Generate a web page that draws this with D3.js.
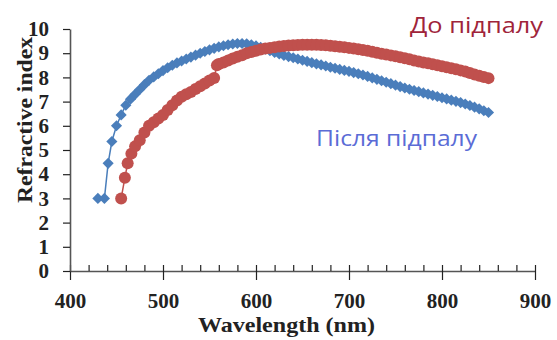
<!DOCTYPE html>
<html>
<head>
<meta charset="utf-8">
<script src="https://cdn.jsdelivr.net/npm/d3@7"></script>
<style>
  body { margin: 0; background: #fff; }
  .axis text { font-family: "Liberation Serif", "Times New Roman", serif; font-weight: bold; font-size: 21px; fill: #222; }
  .axis .domain { stroke: #555; stroke-width: 1.6; }
  .axis line { stroke: #222; stroke-width: 1.2; }
  .axis-title { font-family: "Liberation Serif", "Times New Roman", serif; font-weight: bold; font-size: 22px; fill: #222; }
  .note { font-family: "Open Sans", "Noto Sans", sans-serif; font-size: 22px; }
</style>
</head>
<body>
<div id="chart"></div>
<script>
// Після підпалу (after annealing), blue diamonds
const afterWavelength = [430, 437, 441, 445, 450, 455, 460, 465, 470, 475, 480, 485, 490, 495, 500,
  505, 510, 515, 520, 525, 530, 535, 540, 545, 550, 555, 560, 565, 570, 575, 580, 585, 590, 595, 600,
  605, 610, 615, 620, 625, 630, 635, 640, 645, 650, 655, 660, 665, 670, 675, 680, 685, 690, 695, 700,
  705, 710, 715, 720, 725, 730, 735, 740, 745, 750, 755, 760, 765, 770, 775, 780, 785, 790, 795, 800,
  805, 810, 815, 820, 825, 830, 835, 840, 845, 850];
const afterIndex = [3.0, 3.0, 4.45, 5.35, 6.0, 6.45, 6.85, 7.1, 7.3, 7.5, 7.7, 7.88, 8.02, 8.15, 8.28,
  8.4, 8.5, 8.6, 8.68, 8.76, 8.84, 8.92, 9.0, 9.07, 9.14, 9.2, 9.26, 9.31, 9.35, 9.38, 9.4, 9.4, 9.39, 9.35, 9.3,
  9.24, 9.17, 9.1, 9.03, 8.97, 8.91, 8.86, 8.81, 8.76, 8.71, 8.66, 8.61, 8.56, 8.52, 8.47, 8.42, 8.38, 8.33, 8.29, 8.25,
  8.2, 8.15, 8.1, 8.04, 7.98, 7.92, 7.86, 7.8, 7.74, 7.68, 7.62, 7.56, 7.51, 7.46, 7.41, 7.36, 7.31, 7.26, 7.21, 7.16,
  7.11, 7.06, 7.01, 6.96, 6.9, 6.84, 6.77, 6.7, 6.62, 6.55];

// До підпалу (before annealing), red circles
const beforeWavelength = [455, 459, 462, 466, 470, 475, 480, 485, 490, 495, 500, 505, 510, 515, 520,
  525, 530, 535, 540, 545, 550, 555, 558, 560, 565, 570, 575, 580, 585, 590, 595, 600, 605, 610, 615,
  620, 625, 630, 635, 640, 645, 650, 655, 660, 665, 670, 675, 680, 685, 690, 695, 700, 705, 710, 715,
  720, 725, 730, 735, 740, 745, 750, 755, 760, 765, 770, 775, 780, 785, 790, 795, 800, 805, 810, 815,
  820, 825, 830, 835, 840, 845, 850];
const beforeIndex = [3.0, 3.85, 4.45, 4.85, 5.15, 5.4, 5.72, 6.0, 6.15, 6.3, 6.45, 6.65, 6.85, 7.05, 7.2,
  7.3, 7.4, 7.52, 7.63, 7.75, 7.87, 7.98, 8.5, 8.55, 8.62, 8.7, 8.78, 8.85, 8.92, 9.0, 9.05, 9.1, 9.15, 9.19, 9.22,
  9.25, 9.28, 9.3, 9.32, 9.33, 9.34, 9.35, 9.35, 9.35, 9.35, 9.34, 9.33, 9.31, 9.29, 9.27, 9.25, 9.22, 9.19, 9.16, 9.13,
  9.1, 9.06, 9.02, 8.98, 8.95, 8.91, 8.87, 8.83, 8.79, 8.75, 8.7, 8.66, 8.62, 8.58, 8.54, 8.5, 8.46, 8.42, 8.38, 8.34,
  8.29, 8.24, 8.18, 8.12, 8.07, 8.02, 7.97];

const xTicks = d3.range(400, 901, 20);
const yTicks = d3.range(0, 11, 1);

class IndexChart {
  constructor(_config) {
    this.config = {
      parentElement: _config.parentElement,
      containerWidth: 557,
      containerHeight: 340,
      left: 70, right: 535, top: 29, bottom: 271
    };
    this.initVis();
  }

  initVis() {
    let vis = this;
    const c = vis.config;

    vis.svg = d3.select(c.parentElement).append('svg')
        .attr('width', c.containerWidth)
        .attr('height', c.containerHeight);

    vis.xScale = d3.scaleLinear().domain([400, 900]).range([c.left, c.right]);
    vis.yScale = d3.scaleLinear().domain([0, 10]).range([c.bottom, c.top]);

    // x axis: majors every 100 cross the line, minors every 20 sit above it
    const xAxisG = vis.svg.append('g')
        .attr('class', 'axis')
        .attr('transform', `translate(0,${c.bottom})`)
        .call(d3.axisBottom(vis.xScale).tickValues(xTicks).tickSizeOuter(0)
            .tickFormat(d => d % 100 === 0 ? d : ''));
    xAxisG.selectAll('.tick line')
        .attr('y1', -6)
        .attr('y2', d => d % 100 === 0 ? 9 : 0);
    xAxisG.selectAll('.tick text').attr('y', 22).attr('dy', '0.71em');

    const yAxisG = vis.svg.append('g')
        .attr('class', 'axis')
        .attr('transform', `translate(${c.left},0)`)
        .call(d3.axisLeft(vis.yScale).tickValues(yTicks).tickSize(7).tickSizeOuter(0));
    yAxisG.selectAll('.tick text').attr('x', -21);

    vis.svg.append('text')
        .attr('class', 'axis-title')
        .attr('x', 198)
        .attr('y', 332)
        .attr('textLength', 177)
        .attr('lengthAdjust', 'spacingAndGlyphs')
        .text('Wavelength (nm)');

    vis.svg.append('text')
        .attr('class', 'axis-title')
        .attr('transform', 'translate(32,203) rotate(-90)')
        .attr('textLength', 166)
        .attr('lengthAdjust', 'spacingAndGlyphs')
        .text('Refractive index');

    vis.svg.append('text')
        .attr('class', 'note')
        .attr('x', 410)
        .attr('y', 33)
        .attr('fill', '#a0243a')
        .attr('textLength', 133)
        .attr('lengthAdjust', 'spacingAndGlyphs')
        .text('До підпалу');

    vis.svg.append('text')
        .attr('class', 'note')
        .attr('x', 316)
        .attr('y', 146)
        .attr('fill', '#5b6cd6')
        .attr('textLength', 161)
        .attr('lengthAdjust', 'spacingAndGlyphs')
        .text('Після підпалу');

    vis.renderVis();
  }

  renderVis() {
    let vis = this;
    const after = afterWavelength.map((w, i) => ({ w: w, n: afterIndex[i] }));
    const before = beforeWavelength.map((w, i) => ({ w: w, n: beforeIndex[i] }));

    const line = d3.line()
        .x(d => vis.xScale(d.w))
        .y(d => vis.yScale(d.n));

    // blue first so the red band lies on top where they cross
    vis.svg.append('path')
        .datum(after)
        .attr('fill', 'none')
        .attr('stroke', '#4a7ebb')
        .attr('stroke-width', 1.5)
        .attr('d', line);

    vis.svg.selectAll('.after-point')
        .data(after)
        .join('path')
        .attr('class', 'after-point')
        .attr('d', d3.symbol().type(d3.symbolSquare).size(62))
        .attr('transform', d => `translate(${vis.xScale(d.w)},${vis.yScale(d.n)}) rotate(45)`)
        .attr('fill', '#4a7ebb');

    vis.svg.append('path')
        .datum(before)
        .attr('fill', 'none')
        .attr('stroke', '#c0504d')
        .attr('stroke-width', 1.5)
        .attr('d', line);

    vis.svg.selectAll('.before-point')
        .data(before)
        .join('circle')
        .attr('class', 'before-point')
        .attr('cx', d => vis.xScale(d.w))
        .attr('cy', d => vis.yScale(d.n))
        .attr('r', 6)
        .attr('fill', '#c0504d');
  }
}

new IndexChart({ parentElement: '#chart' });
</script>
</body>
</html>
